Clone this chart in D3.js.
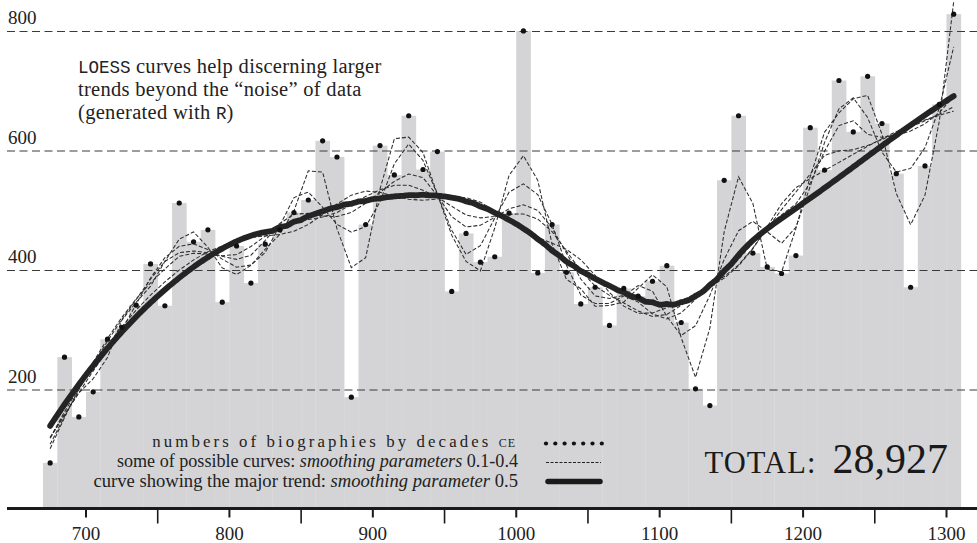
<!DOCTYPE html>
<html>
<head>
<meta charset="utf-8">
<script src="https://cdn.jsdelivr.net/npm/d3@7/dist/d3.min.js"></script>
<style>
  body { margin: 0; background: #fff; }
  svg { display: block; font-family: "Liberation Serif", "Times New Roman", serif; }
</style>
</head>
<body>
<svg id="chart" width="977" height="543"></svg>
<script>
// decades CE (first year of each decade)
var decades = [670, 680, 690, 700, 710, 720, 730, 740, 750, 760, 770, 780, 790,
  800, 810, 820, 830, 840, 850, 860, 870, 880, 890, 900, 910, 920, 930, 940, 950,
  960, 970, 980, 990, 1000, 1010, 1020, 1030, 1040, 1050, 1060, 1070, 1080, 1090,
  1100, 1110, 1120, 1130, 1140, 1150, 1160, 1170, 1180, 1190, 1200, 1210, 1220,
  1230, 1240, 1250, 1260, 1270, 1280, 1290, 1300];

// numbers of biographies per decade
var counts = [78, 255, 155, 197, 285, 305, 342, 411, 341, 513, 448, 468, 347,
  441, 379, 444, 468, 497, 518, 617, 590, 188, 477, 609, 560, 659, 569, 599, 365,
  462, 414, 423, 496, 801, 396, 477, 397, 344, 372, 308, 370, 357, 382,
  408, 313, 202, 174, 551, 659, 429, 406, 395, 425, 639, 568, 718,
  632, 725, 646, 562, 372, 575, 678, 829];

// neighbourhood fractions of the thin curves and of the major trend
var thinSpans = [0.125, 0.2, 0.25, 0.3, 0.4];
var majorSpan = 0.5;

var yTicks = [200, 400, 600, 800];
var xMajor = [700, 800, 900, 1000, 1100, 1200, 1300];
var xMinor = [750, 850, 950, 1050, 1150, 1250];
var total = 28927;

var width = 977, height = 543;
var svg = d3.select('#chart');

var x = d3.scaleLinear().domain([700, 1300]).range([86, 946.5]);
var y = d3.scaleLinear().domain([0, 800]).range([509.5, 31.5]);

var mids = decades.map(function(d) { return d + 5; });

// local quadratic regression with tricube weights, like R's loess()
function loessAt(xs, ys, span, x0) {
  var n = xs.length, q = Math.floor(n * span);
  var dist = xs.map(function(v) { return Math.abs(v - x0); });
  var D = dist.slice().sort(d3.ascending)[q - 1];
  var s = [0, 0, 0, 0, 0], t = [0, 0, 0];
  xs.forEach(function(v, i) {
    var u = dist[i] / D;
    if (u >= 1) return;
    var w = Math.pow(1 - u * u * u, 3), h = (v - x0) / D;
    for (var k = 0; k < 5; k++) s[k] += w * Math.pow(h, k);
    for (k = 0; k < 3; k++) t[k] += w * Math.pow(h, k) * ys[i];
  });
  var a = s[0], b = s[1], c = s[2], e = s[3], f = s[4];
  var det = a * (c * f - e * e) - b * (b * f - e * c) + c * (b * e - c * c);
  var num = t[0] * (c * f - e * e) - b * (t[1] * f - e * t[2]) + c * (t[1] * e - c * t[2]);
  return num / det;
}

// bars
svg.append('g').selectAll('rect')
    .data(decades)
  .enter().append('rect')
    .attr('x', function(d) { return x(d); })
    .attr('width', function(d) { return x(d + 10) - x(d) + 0.3; })
    .attr('y', function(d, i) { return y(counts[i]); })
    .attr('height', function(d, i) { return y(0) - y(counts[i]); })
    .attr('fill', '#d4d4d6');

// horizontal dashed gridlines + labels
var grid = svg.append('g');
grid.selectAll('line')
    .data(yTicks)
  .enter().append('line')
    .attr('x1', 7).attr('x2', width)
    .attr('y1', function(d) { return y(d); })
    .attr('y2', function(d) { return y(d); })
    .attr('stroke', '#3a3a3a')
    .attr('stroke-width', 1)
    .attr('stroke-dasharray', '8,4.5');
grid.selectAll('text')
    .data(yTicks)
  .enter().append('text')
    .attr('x', 8)
    .attr('y', function(d) { return y(d) - 7.5; })
    .attr('font-size', 19)
    .attr('fill', '#222')
    .text(function(d) { return d; });

// thin loess curves
var line = d3.line()
    .x(function(d) { return x(d[0]); })
    .y(function(d) { return y(d[1]); });

svg.append('g').selectAll('path')
    .data(thinSpans)
  .enter().append('path')
    .attr('d', function(sp) {
      return line(mids.map(function(m) { return [m, loessAt(mids, counts, sp, m)]; }));
    })
    .attr('fill', 'none')
    .attr('stroke', '#2e2e2e')
    .attr('stroke-width', 1.05)
    .attr('stroke-dasharray', '4,2');

// thick major trend
var fine = d3.range(mids[0], mids[mids.length - 1] + 0.5, 1);
svg.append('path')
    .attr('d', line(fine.map(function(m) { return [m, loessAt(mids, counts, majorSpan, m)]; })))
    .attr('fill', 'none')
    .attr('stroke', '#242424')
    .attr('stroke-width', 5.8)
    .attr('stroke-linecap', 'round');

// data points
svg.append('g').selectAll('circle')
    .data(mids)
  .enter().append('circle')
    .attr('cx', function(d) { return x(d); })
    .attr('cy', function(d, i) { return y(counts[i]); })
    .attr('r', 2.6)
    .attr('fill', '#111');

// x axis
var axisY = 508.5;
svg.append('line')
    .attr('x1', 7).attr('x2', width)
    .attr('y1', axisY).attr('y2', axisY)
    .attr('stroke', '#1a1a1a').attr('stroke-width', 3);
svg.append('g').selectAll('line')
    .data(xMajor)
  .enter().append('line')
    .attr('x1', function(d) { return x(d); }).attr('x2', function(d) { return x(d); })
    .attr('y1', axisY).attr('y2', axisY + 9)
    .attr('stroke', '#1a1a1a').attr('stroke-width', 2);
svg.append('g').selectAll('line')
    .data(xMinor)
  .enter().append('line')
    .attr('x1', function(d) { return x(d); }).attr('x2', function(d) { return x(d); })
    .attr('y1', axisY).attr('y2', axisY + 15)
    .attr('stroke', '#1a1a1a').attr('stroke-width', 1.6);
svg.append('g').selectAll('text')
    .data(xMajor)
  .enter().append('text')
    .attr('x', function(d) { return x(d); })
    .attr('y', 540)
    .attr('text-anchor', 'middle')
    .attr('font-size', 19)
    .attr('fill', '#222')
    .text(function(d) { return d; });

// note
var noteLines = [
  [['mono', 'LOESS'], ['', ' curves help discerning larger']],
  [['', 'trends beyond the \u201cnoise\u201d of data']],
  [['', '(generated with '], ['mono', 'R'], ['', ')']]
];
noteLines.forEach(function(parts, li) {
  var t = svg.append('text')
      .attr('x', 78).attr('y', 73 + li * 23)
      .attr('font-size', 20.5).attr('letter-spacing', 0.3).attr('fill', '#222');
  parts.forEach(function(p) {
    t.append('tspan')
        .attr('font-family', p[0] === 'mono' ? '"Liberation Mono", "DejaVu Sans Mono", monospace' : null)
        .attr('font-size', p[0] === 'mono' ? 17.5 : null)
        .attr('letter-spacing', p[0] === 'mono' ? 0 : null)
        .text(p[1]);
  });
});

// legend
var lg = svg.append('g').attr('fill', '#222');
var l1 = lg.append('text').attr('x', 516).attr('y', 447)
    .attr('text-anchor', 'end').attr('font-size', 16.8).attr('letter-spacing', 3.1);
l1.append('tspan').text('numbers of biographies by decades ');
l1.append('tspan').attr('font-size', 12).attr('letter-spacing', 1).text('CE');

var l2 = lg.append('text').attr('x', 518).attr('y', 467)
    .attr('text-anchor', 'end').attr('font-size', 18.1);
l2.append('tspan').text('some of possible curves: ');
l2.append('tspan').attr('font-style', 'italic').text('smoothing parameters');
l2.append('tspan').text(' 0.1-0.4');

var l3 = lg.append('text').attr('x', 518).attr('y', 487)
    .attr('text-anchor', 'end').attr('font-size', 18.6);
l3.append('tspan').text('curve showing the major trend: ');
l3.append('tspan').attr('font-style', 'italic').text('smoothing parameter');
l3.append('tspan').text(' 0.5');

lg.append('g').selectAll('circle')
    .data(d3.range(7))
  .enter().append('circle')
    .attr('cx', function(d) { return 546 + d * 9.3; })
    .attr('cy', 443.5).attr('r', 2.1).attr('fill', '#111');
lg.append('line')
    .attr('x1', 546).attr('x2', 601).attr('y1', 462.5).attr('y2', 462.5)
    .attr('stroke', '#222').attr('stroke-width', 1).attr('stroke-dasharray', '3,1.5');
lg.append('line')
    .attr('x1', 548).attr('x2', 600).attr('y1', 481.5).attr('y2', 481.5)
    .attr('stroke', '#1a1a1a').attr('stroke-width', 5.5).attr('stroke-linecap', 'round');

// total
var tt = svg.append('text').attr('x', 948).attr('y', 473)
    .attr('text-anchor', 'end').attr('fill', '#1a1a1a');
tt.append('tspan').attr('font-size', 30.5).attr('letter-spacing', 1.1).text('TOTAL:');
tt.append('tspan').attr('font-size', 42).attr('dx', 16).text(d3.format(',')(total));
</script>
</body>
</html>
